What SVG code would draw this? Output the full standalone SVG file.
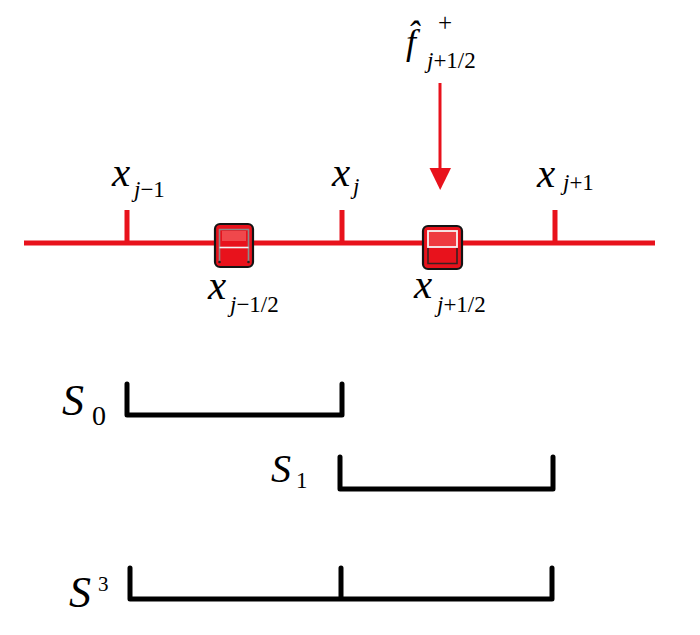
<svg xmlns="http://www.w3.org/2000/svg" width="700" height="635" viewBox="0 0 700 635" font-family="'Liberation Serif', 'Times New Roman', serif">
<style>
  .it { font-style: italic; }
  .big { font-size: 41px; }
  .sub { font-size: 23px; }
  .axis { stroke: #e8121c; stroke-width: 5; fill: none; stroke-linecap: butt; }
  .brk { stroke: #000; stroke-width: 5; fill: none; stroke-linejoin: round; stroke-linecap: round; }
  .cell { fill: #e8121c; stroke: #141414; stroke-width: 2.2; }
</style>
<rect width="700" height="635" fill="#fff"/>

<g id="axis">
  <path class="axis" d="M24,243 H655"/>
  <path class="axis" d="M127,210 V243 M342,210 V243 M555,210 V243"/>
</g>

<g id="cell-j-minus-half">
  <rect class="cell" x="215" y="224" width="38" height="43" rx="5"/>
  <rect x="222" y="231" width="24" height="10" fill="#f0484c"/>
  <path d="M219.5,262 V229.5 H248.5 V262" fill="none" stroke="#8a8a8a" stroke-width="1.6"/>
  <path d="M219.5,247.5 H248.5" stroke="#f4f4f4" stroke-width="1.6"/>
  <circle cx="219.5" cy="262" r="1.3" fill="#222"/>
  <circle cx="248.5" cy="262" r="1.3" fill="#222"/>
</g>

<g id="cell-j-plus-half">
  <rect class="cell" x="423" y="226" width="39" height="43" rx="5"/>
  <rect x="428" y="231" width="29" height="16" fill="#ee3a40" stroke="#f6f6f6" stroke-width="1.8"/>
  <path d="M428,248 V263.5 H457 V248" fill="none" stroke="#3a2020" stroke-width="1.6"/>
</g>

<g id="connectors">
  <path d="M440,83 V170" stroke="#e8121c" stroke-width="3" fill="none"/>
  <path d="M429.5,168 L451,168 L440.2,190 Z" fill="#e8121c"/>
</g>

<g id="label-flux">
  <text class="it" x="406" y="54" font-size="36">f̂</text>
  <text x="438" y="31" font-size="25">+</text>
  <text class="sub" x="427" y="68"><tspan class="it">j</tspan>+1/2</text>
</g>

<g id="label-xjm1">
  <text class="it big" x="112" y="186">x</text>
  <text class="sub" x="134" y="197"><tspan class="it">j</tspan>−1</text>
</g>
<g id="label-xj">
  <text class="it big" x="332" y="186">x</text>
  <text class="it sub" x="353" y="194">j</text>
</g>
<g id="label-xjp1">
  <text class="it big" x="537" y="187">x</text>
  <text class="sub" x="563" y="190"><tspan class="it">j</tspan>+1</text>
</g>
<g id="label-xjmh">
  <text class="it big" x="208" y="299">x</text>
  <text class="sub" x="230" y="312"><tspan class="it">j</tspan>−1/2</text>
</g>
<g id="label-xjph">
  <text class="it big" x="414" y="298">x</text>
  <text class="sub" x="437" y="312"><tspan class="it">j</tspan>+1/2</text>
</g>

<g id="stencil-S0">
  <path class="brk" d="M127,384 V415 H342 V384"/>
  <text class="it" x="62" y="415" font-size="44">S</text>
  <text x="92" y="425" font-size="28">0</text>
</g>
<g id="stencil-S1">
  <path class="brk" d="M340,457 V489 H553 V457"/>
  <text class="it" x="271" y="482" font-size="40">S</text>
  <text x="296" y="488" font-size="23">1</text>
</g>
<g id="stencil-S3">
  <path class="brk" d="M130,568 V599 H552 V568 M341,568 V599"/>
  <text class="it" x="69" y="607" font-size="44">S</text>
  <text x="98" y="591" font-size="21">3</text>
</g>
</svg>
